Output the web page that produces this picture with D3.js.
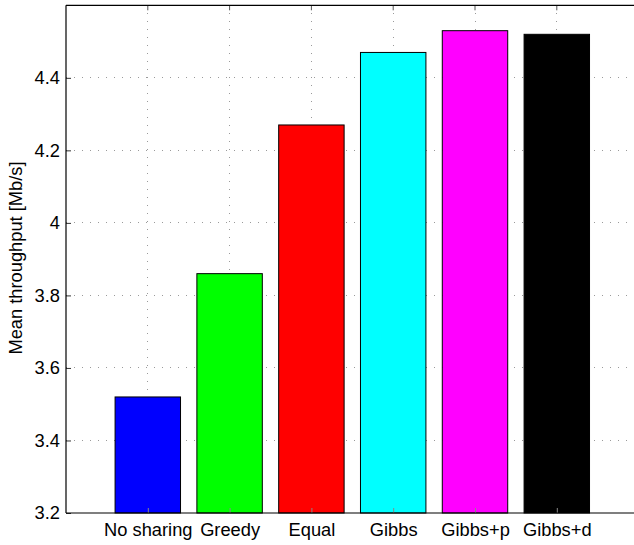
<!DOCTYPE html>
<html><head><meta charset="utf-8">
<script src="https://cdn.jsdelivr.net/npm/d3@7"></script>
<style>body{margin:0;background:#fff}svg{display:block}text{font-family:"Liberation Sans",Arial,sans-serif}</style>
</head><body>
<script>
const categories = ["No sharing","Greedy","Equal","Gibbs","Gibbs+p","Gibbs+d"];
const values = [3.52, 3.86, 4.27, 4.47, 4.53, 4.52];
const colors = ["#0000ff","#00ff00","#ff0000","#00ffff","#ff00ff","#000000"];
const yTicks = [3.2, 3.4, 3.6, 3.8, 4.0, 4.2, 4.4];

const W = 634, H = 545;
const mL = 66, mT = 5.3, mB = 513, mR = 638.6;
const FS = 18.3;
const svg = d3.select("body").append("svg").attr("width", W).attr("height", H);

const x = d3.scaleLinear().domain([0, 7]).range([mL, mR]);
const y = d3.scaleLinear().domain([3.2, 4.6]).range([mB, mT]);
const bw = (x(1) - x(0)) * 0.8;

// grid
const g = svg.append("g");
g.selectAll("line.h").data(yTicks.slice(1)).join("line")
  .attr("x1", mL).attr("x2", mR).attr("y1", d => y(d)).attr("y2", d => y(d))
  .attr("stroke", "#9a9a9a").attr("stroke-width", 1).attr("stroke-dasharray", "1,7").attr("shape-rendering","crispEdges");
g.selectAll("line.v").data(categories).join("line")
  .attr("x1", (d,i) => x(i+1)).attr("x2", (d,i) => x(i+1)).attr("y1", mT).attr("y2", mB)
  .attr("stroke", "#9a9a9a").attr("stroke-width", 1).attr("stroke-dasharray", "1,7").attr("shape-rendering","crispEdges");

// bars
svg.selectAll("rect.bar").data(values).join("rect")
  .attr("x", (d,i) => x(i+1) - bw/2).attr("width", bw)
  .attr("y", d => y(d)).attr("height", d => mB - y(d))
  .attr("fill", (d,i) => colors[i]).attr("stroke", "#000").attr("stroke-width", 1);

// y axis
const yAxis = d3.axisLeft(y).tickValues(yTicks).tickSize(-5).tickPadding(6)
  .tickFormat(d => d3.format("~g")(d));
const ya = svg.append("g").attr("transform", `translate(${mL},0)`).call(yAxis);
ya.select(".domain").remove();
ya.selectAll("text").attr("font-size", FS).attr("fill", "#000").attr("font-family", '"Liberation Sans",Arial,sans-serif');
ya.selectAll("line").attr("stroke", "#333");

// x axis
const xAxis = d3.axisBottom(x).tickValues(d3.range(1, 7)).tickSize(-5).tickPadding(10)
  .tickFormat((d) => categories[d-1]);
const xa = svg.append("g").attr("transform", `translate(0,${mB})`).call(xAxis);
xa.select(".domain").remove();
xa.selectAll("text").attr("font-size", FS).attr("fill", "#000").attr("font-family", '"Liberation Sans",Arial,sans-serif');
xa.selectAll("line").attr("stroke", "#888");

// top ticks
svg.append("g").selectAll("line").data(d3.range(1,7)).join("line")
  .attr("x1", d => x(d)).attr("x2", d => x(d)).attr("y1", mT).attr("y2", mT+5)
  .attr("stroke", "#555");

// frame
svg.append("line").attr("x1", mL).attr("x2", mL).attr("y1", mT).attr("y2", mB).attr("stroke", "#000").attr("stroke-width", 1.2);
svg.append("line").attr("x1", mL).attr("x2", mR).attr("y1", mB).attr("y2", mB).attr("stroke", "#000").attr("stroke-width", 1.2);
svg.append("line").attr("x1", mL).attr("x2", mR).attr("y1", mT).attr("y2", mT).attr("stroke", "#000").attr("stroke-width", 1.2);

// y label
svg.append("text").attr("transform", `translate(21.5,258) rotate(-90)`)
  .attr("text-anchor", "middle").attr("font-size", FS).text("Mean throughput [Mb/s]");
</script>
</body></html>
